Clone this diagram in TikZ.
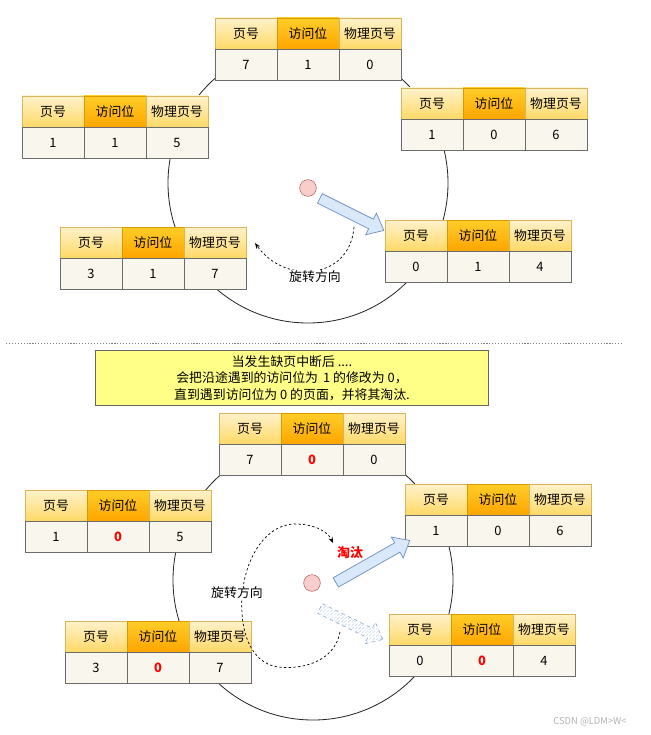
\documentclass[tikz,border=0pt]{standalone}
\usepackage{fontspec}
\setmainfont{Noto Sans CJK SC}
\usepackage{tikz}
\usepackage{xcolor}
\usetikzlibrary{positioning,calc,shapes.arrows,patterns,arrows.meta}

\definecolor{headtop}{HTML}{FFF2CC}
\definecolor{headbot}{HTML}{FFD966}
\definecolor{headline}{HTML}{D6B656}
\definecolor{bittop}{HTML}{FFCD28}
\definecolor{bitbot}{HTML}{FFA500}
\definecolor{bitline}{HTML}{D79B00}
\definecolor{valfill}{HTML}{F9F7ED}
\definecolor{valline}{HTML}{6B6B6B}
\definecolor{arrowfill}{HTML}{DAE8FC}
\definecolor{arrowline}{HTML}{6C8EBF}
\definecolor{dotfill}{HTML}{F8CECC}
\definecolor{dotline}{HTML}{B85450}
\definecolor{notefill}{HTML}{FFFF88}
\definecolor{evictred}{HTML}{FF0000}

\tikzset{
  cell/.style={minimum width=1.86cm, minimum height=0.93cm, inner sep=0pt,
    outer sep=0pt, line width=0.6pt, font=\fontsize{11pt}{13pt}\selectfont},
  headcell/.style={cell, draw=headline, top color=headtop, bottom color=headbot},
  bitcell/.style={cell, draw=bitline, top color=bittop, bottom color=bitbot},
  valcell/.style={cell, draw=valline, fill=valfill},
  zerobit/.style={text=evictred, font=\fontsize{11pt}{13pt}\selectfont\bfseries},
  fatarrow/.style={single arrow, draw=arrowline, fill=arrowfill, line width=0.6pt,
    single arrow head extend=0.2cm, single arrow tip angle=80,
    single arrow head indent=0pt, inner xsep=0pt, inner ysep=0.15cm,
    outer sep=0pt, minimum height=1cm},
  ghostarrow/.style={fatarrow, draw=arrowline!70, fill=none, dashed,
    pattern=north east lines, pattern color=arrowline!40},
  pointer/.style={circle, draw=dotline, fill=dotfill, minimum size=0.5cm, inner sep=0pt},
  turn/.style={dashed, dash pattern=on 2pt off 2pt, line width=0.6pt, -{Stealth[length=5pt]}},
  ring/.style={line width=0.7pt, draw=black!85},
  label/.style={fill=white, inner sep=1pt, font=\fontsize{11pt}{13pt}\selectfont}
}

% one page table: name, x, y, page, bit, frame, bit style
\newcommand{\pagetable}[7]{%
  \node[headcell, anchor=north west] (#1a) at (#2,#3) {页号};
  \node[bitcell, right=0pt of #1a] (#1b) {访问位};
  \node[headcell, right=0pt of #1b] (#1c) {物理页号};
  \node[valcell, below=0pt of #1a] (#1d) {#4};
  \node[valcell, below=0pt of #1b, #7] (#1e) {#5};
  \node[valcell, below=0pt of #1c] (#1f) {#6};
}

% fat arrow between two points
\newcommand{\fatarrowfrom}[3]{%
  \path let \p1=($(#3)-(#2)$) in
    node[#1, minimum height={veclen(\x1,\y1)}, rotate={atan2(\y1,\x1)}]
    at ($(#2)!0.5!(#3)$) {};
}

\begin{document}
\begin{tikzpicture}[x=0.03cm, y=-0.03cm]

\useasboundingbox (0,0) rectangle (650,735);

%------------------------------------------------
% Clock before
%------------------------------------------------

\draw[ring] (308,183) circle[radius=140];

\pagetable{ta}{215}{18}{7}{1}{0}{}
\pagetable{tb}{22}{96}{1}{1}{5}{}
\pagetable{tc}{401}{88}{1}{0}{6}{}
\pagetable{td}{60}{227}{3}{1}{7}{}
\pagetable{te}{385}{220}{0}{1}{4}{}

\node[pointer] (hand) at (308,188) {};
\coordinate (handtail) at (317,197);
\coordinate (handtip) at (381,229);
\fatarrowfrom{fatarrow}{handtail}{handtip}

\coordinate (turnstart) at (354,227);
\coordinate (turnend) at (255,243);
\draw[turn] (turnstart) .. controls (350,280) and (285,285) .. (turnend);
\node[label] (turntext) at (315,277) {旋转方向};

%------------------------------------------------
% Separator and note
%------------------------------------------------

\draw[gray, line width=0.8pt, dash pattern=on 1pt off 1.5pt] (6,343) -- (622,343);

\node[draw=black!60, fill=notefill, line width=0.6pt, minimum width=11.8cm,
  minimum height=1.65cm, align=center, inner sep=2pt,
  font=\fontsize{11pt}{14pt}\selectfont] (note) at (292,378)
  {当发生缺页中断后 ....\\会把沿途遇到的访问位为 \,1 的修改为 0，\\直到遇到访问位为 0 的页面，并将其淘汰.};

%------------------------------------------------
% Clock after
%------------------------------------------------

\draw[ring] (313,580) circle[radius=140];

\pagetable{ba}{219}{413}{7}{0}{0}{zerobit}
\pagetable{bb}{25}{490}{1}{0}{5}{zerobit}
\pagetable{bc}{405}{484}{1}{0}{6}{}
\pagetable{bd}{65}{621}{3}{0}{7}{zerobit}
\pagetable{be}{389}{614}{0}{0}{4}{zerobit}

\node[pointer] (newhand) at (312,583) {};
\coordinate (newtail) at (333,584);
\coordinate (newtip) at (407,542);
\fatarrowfrom{fatarrow}{newtail}{newtip}
\coordinate (oldtail) at (317,607);
\coordinate (oldtip) at (380,638);
\fatarrowfrom{ghostarrow}{oldtail}{oldtip}

\node[text=evictred, font=\fontsize{11pt}{13pt}\selectfont\bfseries] (evict) at (350,553) {淘汰};

\coordinate (loopstart) at (340,632);
\coordinate (loopend) at (333,543);
\draw[turn] (loopstart) .. controls (335,660) and (305,670) .. (278,667)
  .. controls (250,663) and (240,630) .. (242,598)
  .. controls (244,560) and (265,524) .. (295,524)
  .. controls (315,524) and (328,532) .. (loopend);
\node[label] (looptext) at (237,593) {旋转方向};

\node[text=black!30, font=\fontsize{8pt}{10pt}\selectfont] (mark) at (590,722) {CSDN @LDM>W<};

\end{tikzpicture}
\end{document}
